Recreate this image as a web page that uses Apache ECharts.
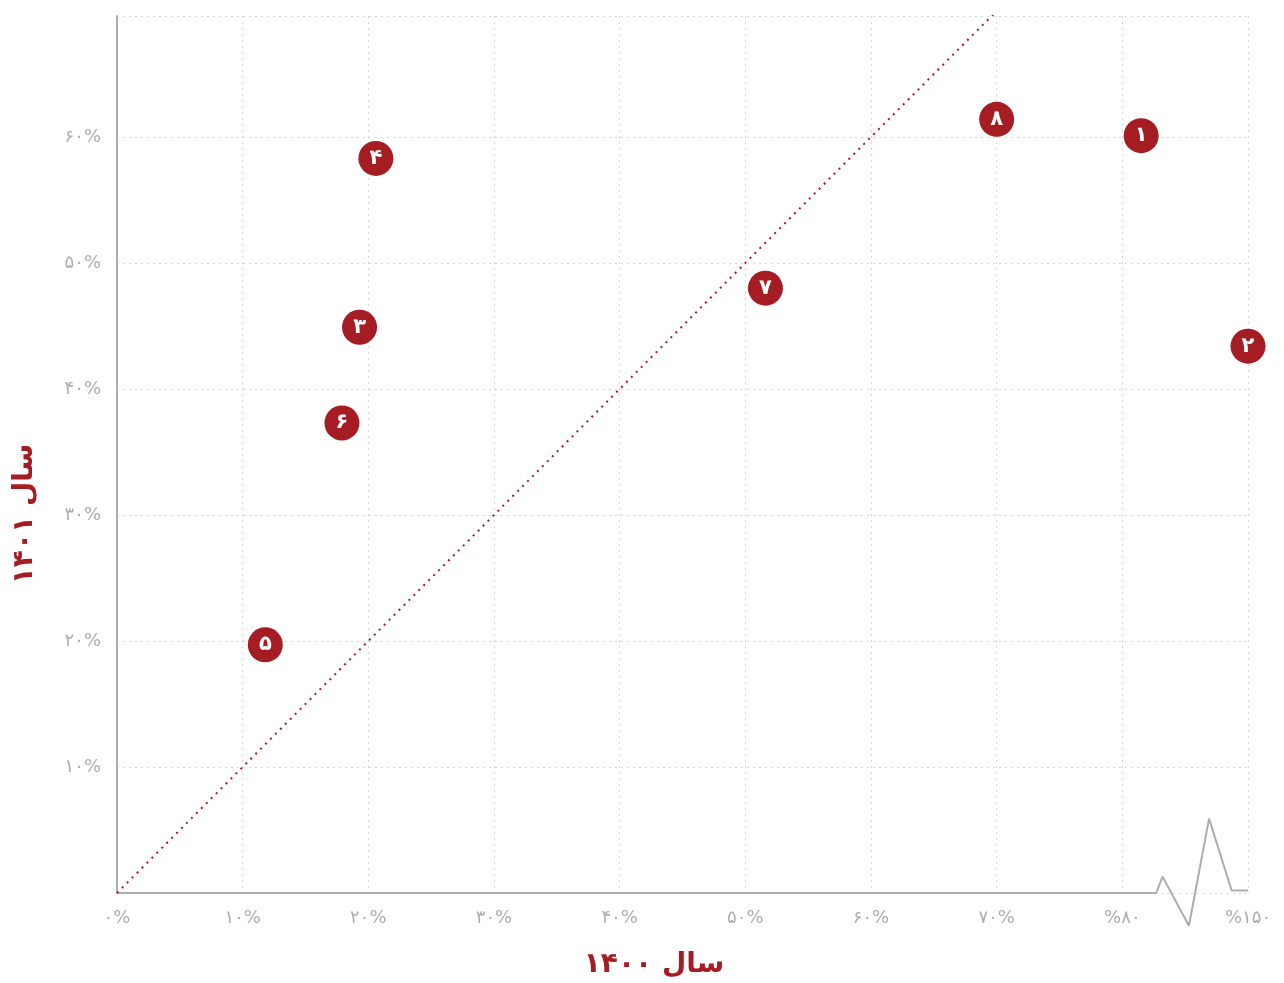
<!DOCTYPE html>
<html><head><meta charset="utf-8">
<script src="https://cdn.jsdelivr.net/npm/echarts@6/dist/echarts.min.js"></script>
<style>html,body{margin:0;padding:0;background:#fff;overflow:hidden}#c{width:1284px;height:983px}</style>
</head><body><div id="c"></div>
<script>
// x axis is drawn with a break: 80% then jumps to 150% (axis unit 90)
const xTickLabels = {0:'۰%',10:'۱۰%',20:'۲۰%',30:'۳۰%',40:'۴۰%',50:'۵۰%',60:'۶۰%',70:'۷۰%',80:'%۸۰',90:'%۱۵۰'};
const yTickLabels = {10:'۱۰%',20:'۲۰%',30:'۳۰%',40:'۴۰%',50:'۵۰%',60:'۶۰%'};
const pointNames = ['۱','۲','۳','۴','۵','۶','۷','۸'];
const xValues = [81.5, 90, 19.3, 20.6, 11.8, 17.9, 51.6, 70.0];
const yValues = [60.1, 43.4, 44.9, 58.3, 19.7, 37.3, 48.0, 61.4];
const diagonal = [[0,0],[70,70]];
const axisBreakPath = [[0,0],[82.7,0],[83.2,1.3],[85.3,-2.6],[86.9,5.9],[88.7,0.2],[90,0.2]];
const xTitle = 'سال ۱۴۰۰';
const yTitle = 'سال ۱۴۰۱';

const RED = '#a51c22';
const GRAY = '#adadad';
const FONT = 'DejaVu Sans';
const chart = echarts.init(document.getElementById('c'), null, {renderer:'canvas'});
const pts = xValues.map((x,i)=>({value:[x,yValues[i]], name:pointNames[i]}));
chart.setOption({
  animation:false,
  grid:{left:117, right:36, top:16, bottom:90, containLabel:false, outerBoundsMode:'none'},
  xAxis:{type:'value', min:0, max:90, interval:10,
    axisLine:{show:false}, axisTick:{show:false},
    splitLine:{show:true, lineStyle:{color:'#d6d6d6', type:[2,4], width:1}},
    axisLabel:{margin:16, color:GRAY, fontSize:18, fontFamily:FONT,
      formatter:v=>xTickLabels[v]||''}
  },
  yAxis:{type:'value', min:0, max:69.6, interval:10,
    axisLine:{show:true, lineStyle:{color:GRAY, width:2}}, axisTick:{show:false},
    splitLine:{show:true, lineStyle:{color:'#d6d6d6', type:[2,4], width:1}},
    axisLabel:{margin:16, color:GRAY, fontSize:18, fontFamily:FONT, verticalAlign:'middle', padding:[6,0,0,0],
      formatter:v=>yTickLabels[v]||''}
  },
  graphic:[
    {type:'text', style:{text:xTitle, fill:RED, font:'bold 28px "'+FONT+'"',
      x:654, y:965, align:'center', verticalAlign:'middle'}},
    {type:'text', x:25, y:514, rotation:Math.PI/2,
      style:{text:yTitle, fill:RED, font:'bold 28px "'+FONT+'"', align:'center', verticalAlign:'middle'}}
  ],
  series:[
    {type:'line', data:axisBreakPath, symbol:'none', clip:false, silent:true,
     lineStyle:{color:GRAY, width:2}, z:1},
    {type:'line', data:diagonal, symbol:'none', silent:true,
     lineStyle:{color:RED, width:2, type:[2,5]}, z:2},
    {type:'scatter', data:pts, symbolSize:35, clip:false,
     itemStyle:{color:RED, opacity:1},
     label:{show:true, position:'inside', formatter:p=>p.name, color:'#fff',
       fontSize:21, fontWeight:'bold', fontFamily:FONT}, z:5}
  ]
});
</script></body></html>
